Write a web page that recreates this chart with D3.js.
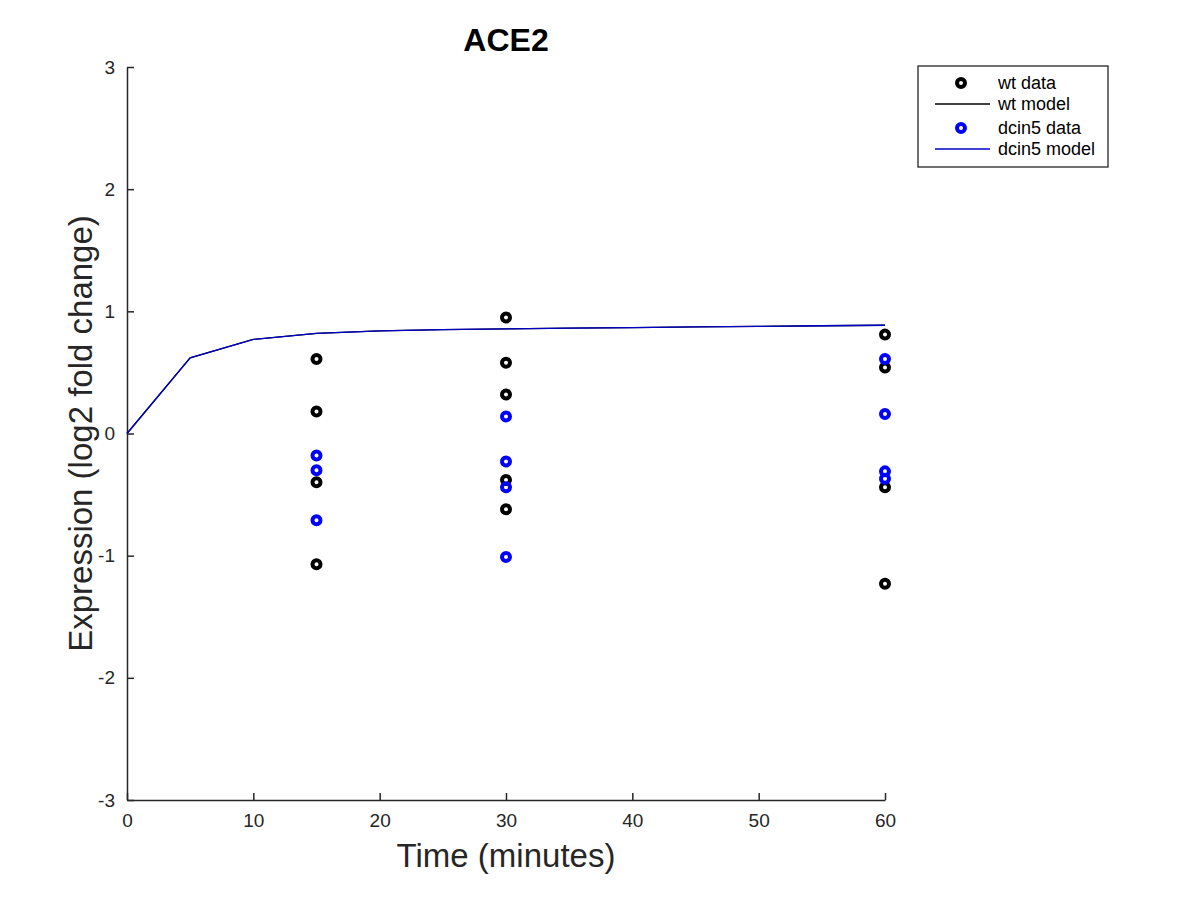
<!DOCTYPE html>
<html>
<head>
<meta charset="utf-8">
<script src="https://cdn.jsdelivr.net/npm/d3@7"></script>
<style>
  body { margin: 0; background: #fff; }
  svg { font-family: "Liberation Sans", Arial, sans-serif; }
</style>
</head>
<body>
<svg id="chart" width="1200" height="900"></svg>
<script>
// model curve (wt and dcin5 models coincide)
var modelTimes = [0, 5, 10, 15, 20, 25, 30, 35, 40, 45, 50, 55, 60];
var wtModel    = [0, 0.62, 0.77, 0.82, 0.84, 0.85, 0.856, 0.862, 0.867, 0.872, 0.877, 0.882, 0.886];
var dcinModel  = [0, 0.62, 0.77, 0.82, 0.84, 0.85, 0.856, 0.862, 0.867, 0.872, 0.877, 0.882, 0.886];

// replicate measurements
var wtTimes   = [15, 15, 15, 15, 30, 30, 30, 30, 30, 60, 60, 60, 60];
var wtData    = [0.61, 0.18, -0.40, -1.07, 0.95, 0.58, 0.32, -0.38, -0.62, 0.81, 0.54, -0.44, -1.23];
var dcinTimes = [15, 15, 15, 30, 30, 30, 30, 60, 60, 60, 60];
var dcinData  = [-0.18, -0.30, -0.71, 0.14, -0.23, -0.44, -1.01, 0.61, 0.16, -0.31, -0.37];

var xTicks = [0, 10, 20, 30, 40, 50, 60];
var yTicks = [-3, -2, -1, 0, 1, 2, 3];

var margin = {top: 67, left: 127, right: 315, bottom: 100},
    width = 1200, height = 900;

var svg = d3.select("#chart");

var x = d3.scaleLinear().domain([0, 60]).range([margin.left, width - margin.right]);
var y = d3.scaleLinear().domain([-3, 3]).range([height - margin.bottom, margin.top]);

var line = d3.line()
    .x(function(d){ return x(d[0]); })
    .y(function(d){ return y(d[1]); });

var fmt = function(d){ return String(d); };

// axes, ticks pointing inward
var xAxis = svg.append("g")
    .attr("transform", "translate(0," + y(-3) + ")")
    .call(d3.axisBottom(x).tickValues(xTicks).tickFormat(fmt)
        .tickSizeInner(-7).tickSizeOuter(0).tickPadding(14));
var yAxis = svg.append("g")
    .attr("transform", "translate(" + x(0) + ",0)")
    .call(d3.axisLeft(y).tickValues(yTicks).tickFormat(fmt)
        .tickSizeInner(-7).tickSizeOuter(0).tickPadding(12));

[xAxis, yAxis].forEach(function(a){
    a.attr("font-size", 19).attr("font-family", "Liberation Sans, Arial, sans-serif");
    a.select(".domain").attr("stroke", "#262626").attr("stroke-width", 1.5);
    a.selectAll(".tick line").attr("stroke", "#262626").attr("stroke-width", 1.5);
    a.selectAll(".tick text").attr("fill", "#262626");
});

// model lines
svg.append("path")
    .datum(d3.zip(modelTimes, wtModel))
    .attr("d", line).attr("fill", "none")
    .attr("stroke", "#000").attr("stroke-width", 1.3);
svg.append("path")
    .datum(d3.zip(modelTimes, dcinModel))
    .attr("d", line).attr("fill", "none")
    .attr("stroke", "#0000c8").attr("stroke-width", 1.3);

// data points
svg.append("g").selectAll("circle")
    .data(d3.zip(wtTimes, wtData))
    .enter().append("circle")
    .attr("cx", function(d){ return x(d[0]); })
    .attr("cy", function(d){ return y(d[1]); })
    .attr("r", 4)
    .attr("fill", "none").attr("stroke", "#000").attr("stroke-width", 4);

svg.append("g").selectAll("circle")
    .data(d3.zip(dcinTimes, dcinData))
    .enter().append("circle")
    .attr("cx", function(d){ return x(d[0]); })
    .attr("cy", function(d){ return y(d[1]); })
    .attr("r", 4)
    .attr("fill", "none").attr("stroke", "#0000ff").attr("stroke-width", 4);

// title and labels
svg.append("text")
    .attr("x", (x(0) + x(60)) / 2).attr("y", 51)
    .attr("text-anchor", "middle")
    .style("font-size", "32px").style("font-weight", "bold")
    .text("ACE2");

svg.append("text")
    .attr("x", (x(0) + x(60)) / 2).attr("y", 867)
    .attr("text-anchor", "middle").attr("fill", "#262626")
    .style("font-size", "33px")
    .text("Time (minutes)");

svg.append("text")
    .attr("transform", "translate(92," + y(0) + ") rotate(-90)")
    .attr("text-anchor", "middle").attr("fill", "#262626")
    .style("font-size", "33px")
    .text("Expression (log2 fold change)");

// legend
var legend = svg.append("g");
legend.append("rect")
    .attr("x", 918).attr("y", 66).attr("width", 190).attr("height", 101)
    .attr("fill", "#fff").attr("stroke", "#262626").attr("stroke-width", 1.3);

var entries = [
    {label: "wt data", color: "#000", type: "marker"},
    {label: "wt model", color: "#000", type: "line"},
    {label: "dcin5 data", color: "#0000ff", type: "marker"},
    {label: "dcin5 model", color: "#0000c8", type: "line"}
];
var rowY = [83, 104, 128, 149];

entries.forEach(function(e, i){
    if (e.type === "marker") {
        legend.append("circle")
            .attr("cx", 961).attr("cy", rowY[i]).attr("r", 4)
            .attr("fill", "none").attr("stroke", e.color).attr("stroke-width", 4);
    } else {
        legend.append("line")
            .attr("x1", 935).attr("x2", 990).attr("y1", rowY[i]).attr("y2", rowY[i])
            .attr("stroke", e.color).attr("stroke-width", 1.3);
    }
    legend.append("text")
        .attr("x", 998).attr("y", rowY[i] + 6)
        .attr("fill", "#000")
        .style("font-size", "18px")
        .text(e.label);
});
</script>
</body>
</html>
